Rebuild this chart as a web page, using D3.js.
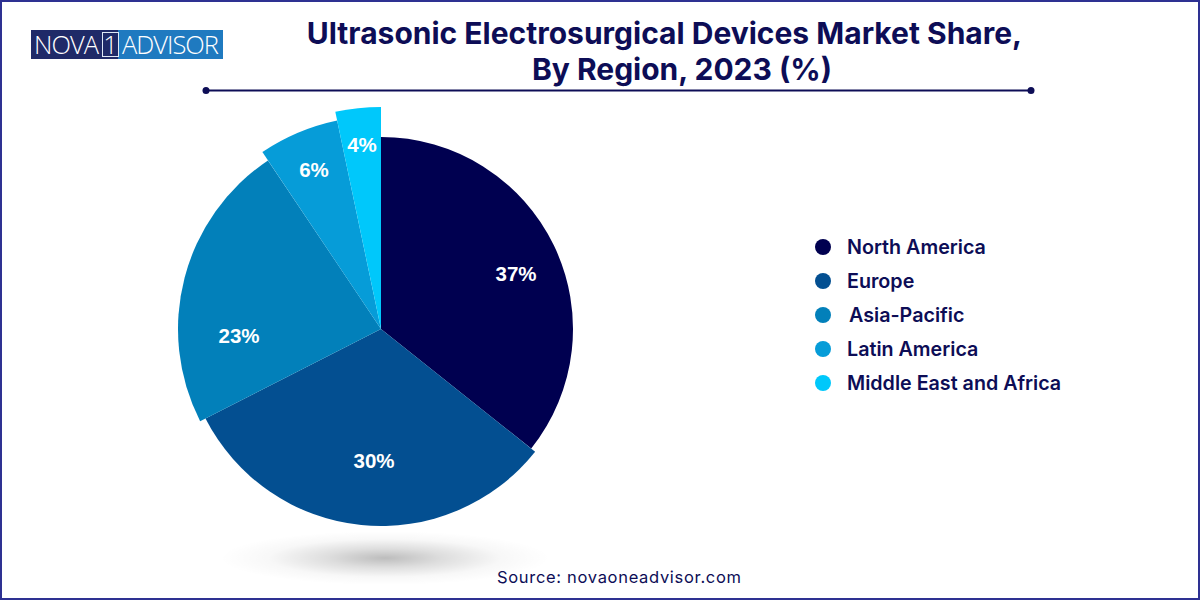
<!DOCTYPE html>
<html>
<head>
<meta charset="utf-8">
<title>Ultrasonic Electrosurgical Devices Market Share</title>
<script src="https://cdn.jsdelivr.net/npm/d3@7"></script>
<style>
  html, body { margin: 0; padding: 0; background: #fff; }
  svg { display: block; }
</style>
</head>
<body>
<div id="chart"></div>
<script>
// Data
const regions = ["North America", "Europe", "Asia-Pacific", "Latin America", "Middle East and Africa"];
const shareLabels = [37, 30, 23, 6, 4];
// the drawn slices are not quite the printed shares, so these are the arc sizes as measured (%)
const arcShares = [35.7, 31.8, 23.1, 6.1, 3.3];

// Set dimensions
const width = 1200;
const height = 600;
const cx = 381;
const cy = 329;

// Layout and styles
const colors = ["#000050", "#034f91", "#0280ba", "#069cd8", "#00c8fb"];
const sliceRadius = [192, 197, 203, 213, 222];
const labelOffset = [[135, -55], [-7, 132], [-142, 7], [-67, -159], [-19, -184]];
const navy = "#0d0d56";

const svg = d3
  .select("#chart")
  .append("svg")
  .attr("width", width)
  .attr("height", height)
  .attr("viewBox", [0, 0, width, height]);

svg.append("rect")
  .attr("width", width)
  .attr("height", height)
  .attr("fill", "#fff");

/*

  Logo

*/
svg.append("rect").attr("x", 31).attr("y", 30).attr("width", 192).attr("height", 29).attr("fill", "#1f7ac0");
svg.append("rect").attr("x", 31).attr("y", 30).attr("width", 87).attr("height", 29).attr("fill", "#1f2a68");
svg.append("rect")
  .attr("x", 102.5).attr("y", 32.5).attr("width", 16).attr("height", 24)
  .attr("fill", "none").attr("stroke", "#dfe8f5").attr("stroke-width", 1);

const logoText = svg.append("g")
  .attr("font-family", "'Open Sans', sans-serif")
  .attr("font-weight", 300)
  .attr("font-size", 25.5)
  .attr("fill", "#fff");
logoText.append("text").attr("x", 34).attr("y", 54).attr("textLength", 65).text("NOVA");
logoText.append("text").attr("x", 110.5).attr("y", 54).attr("text-anchor", "middle").text("1");
logoText.append("text").attr("x", 122).attr("y", 54).attr("textLength", 97).text("ADVISOR");

/*

  Title

*/
const title = svg.append("g")
  .attr("font-family", "Inter, sans-serif")
  .attr("font-weight", 700)
  .attr("font-size", 30)
  .attr("fill", navy)
  .attr("text-anchor", "middle");
title.append("text").attr("x", 664.5).attr("y", 44).text("Ultrasonic Electrosurgical Devices Market Share,");
title.append("text").attr("x", 682).attr("y", 80).text("By Region, 2023 (%)");

// Rule under the title
svg.append("line")
  .attr("x1", 206).attr("x2", 1031).attr("y1", 90.5).attr("y2", 90.5)
  .attr("stroke", navy).attr("stroke-width", 2);
svg.selectAll(".rule-dot")
  .data([206, 1031])
  .enter()
  .append("circle")
    .attr("class", "rule-dot")
    .attr("cx", d => d)
    .attr("cy", 90.5)
    .attr("r", 3.5)
    .attr("fill", navy);

/*

  Shadow under the pie

*/
const defs = svg.append("defs");
const shadow = defs.append("radialGradient").attr("id", "pie-shadow");
shadow.append("stop").attr("offset", "0%").attr("stop-color", "#000").attr("stop-opacity", 0.26);
shadow.append("stop").attr("offset", "35%").attr("stop-color", "#000").attr("stop-opacity", 0.13);
shadow.append("stop").attr("offset", "70%").attr("stop-color", "#000").attr("stop-opacity", 0.03);
shadow.append("stop").attr("offset", "100%").attr("stop-color", "#000").attr("stop-opacity", 0);

svg.append("ellipse")
  .attr("cx", 385).attr("cy", 558)
  .attr("rx", 165).attr("ry", 27)
  .attr("fill", "url(#pie-shadow)");

/*

  Pie slices

*/
const pie = d3.pie().sort(null).value(d => d);
const arcs = pie(arcShares);
const pieGroup = svg.append("g").attr("transform", `translate(${cx}, ${cy})`);

pieGroup.selectAll(".slice")
  .data(arcs)
  .enter()
  .append("path")
    .attr("class", "slice")
    .attr("d", (d, i) => d3.arc().innerRadius(0).outerRadius(sliceRadius[i])(d))
    .attr("fill", (d, i) => colors[i]);

pieGroup.selectAll(".slice-label")
  .data(shareLabels)
  .enter()
  .append("text")
    .attr("class", "slice-label")
    .attr("x", (d, i) => labelOffset[i][0])
    .attr("y", (d, i) => labelOffset[i][1])
    .attr("dy", "0.36em")
    .attr("text-anchor", "middle")
    .attr("font-family", "'Liberation Sans', sans-serif")
    .attr("font-weight", 700)
    .attr("font-size", 20.5)
    .attr("fill", "#fff")
    .text(d => d + "%");

/*

  Legend

*/
const legendY = d3.scalePoint().domain(regions).range([247, 383]);

svg.selectAll(".legend-dot")
  .data(regions)
  .enter()
  .append("circle")
    .attr("class", "legend-dot")
    .attr("cx", 823)
    .attr("cy", d => legendY(d))
    .attr("r", 8)
    .attr("fill", (d, i) => colors[i]);

svg.selectAll(".legend-label")
  .data(regions)
  .enter()
  .append("text")
    .attr("class", "legend-label")
    .attr("x", d => d === "Asia-Pacific" ? 849 : 847)
    .attr("y", d => legendY(d))
    .attr("dy", "0.36em")
    .attr("font-family", "Inter, sans-serif")
    .attr("font-weight", 600)
    .attr("font-size", 19.7)
    .attr("fill", navy)
    .text(d => d);

// Source line
svg.append("text")
  .attr("x", 497)
  .attr("y", 582.5)
  .attr("font-family", "Inter, sans-serif")
  .attr("font-size", 16.5)
  .attr("textLength", 244)
  .attr("fill", navy)
  .text("Source: novaoneadvisor.com");

// Frame around the whole picture
svg.append("rect")
  .attr("x", 1).attr("y", 1)
  .attr("width", width - 2).attr("height", height - 2)
  .attr("fill", "none")
  .attr("stroke", "#2e3192")
  .attr("stroke-width", 2);
</script>
</body>
</html>
